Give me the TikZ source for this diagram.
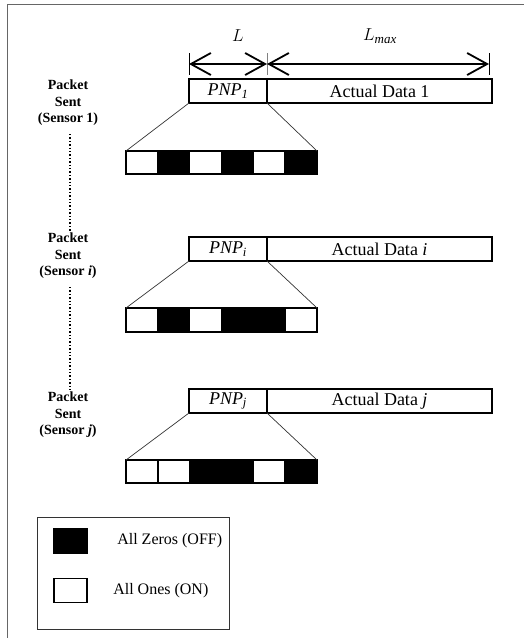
\documentclass[tikz,border=0pt]{standalone}
\usepackage{fontspec}
\setmainfont{Liberation Serif}
\usetikzlibrary{arrows.meta,positioning}

\begin{document}
\begin{tikzpicture}[x=1pt,y=-1pt,
  box/.style={draw,line width=1.6pt,outer sep=0pt,inner sep=0pt,minimum height=24pt,font=\fontsize{18}{20}\selectfont},
  bar/.style={draw,line width=1.6pt,outer sep=0pt,minimum width=191pt,minimum height=23pt},
  sent/.style={align=center,inner sep=2pt,font=\bfseries\fontsize{14}{16.5}\selectfont},
  zoomline/.style={line width=0.7pt,black!80},
  barb/.tip={Straight Barb[length=20pt,width=22pt,line width=1.8pt]},
  dim/.style={line width=1.8pt,barb-barb}]
\useasboundingbox (0,0) rectangle (524,638);

% outer lines
\draw[gray!80!black,line width=1pt] (7,638) |- (524,4);

% lengths
\coordinate (t0) at (189,64);
\coordinate (t1) at (267,64);
\coordinate (t2) at (489,64);
\draw[line width=0.8pt] ([yshift=11pt]t0) -- ([yshift=-11pt]t0);
\draw[line width=0.8pt,gray] ([yshift=11pt]t1) -- ([yshift=-11pt]t1);
\draw[line width=0.8pt] ([yshift=11pt]t2) -- ([yshift=-11pt]t2);
\draw[dim] (t0) -- (t1);
\draw[dim] (t1) -- (t2);
\node[font=\fontsize{16}{18}\selectfont] (len) at (238,36) {$L$};
\node[font=\fontsize{16}{18}\selectfont] (lenmax) at (380,36)
  {$L_{\mbox{\fontsize{13}{14}\selectfont$\mathit{max}$}}$};

% packet 1
\node[box,minimum width=78pt] (pnp1) at (228,91) {\textit{PNP\textsubscript{1}}};
\node[box,minimum width=225pt,right=0pt of pnp1] (data1) {Actual Data 1};
\foreach \c [count=\k from 0] in {white,black,white,black,white,black}
  \draw[line width=1.6pt,fill=\c] (126+31.83*\k,151) rectangle ++(31.83,23);
\node[bar] (bar1) at (221.5,162.5) {};
\draw[zoomline] (pnp1.south west) -- (bar1.north west);
\draw[zoomline] (pnp1.south east) -- (bar1.north east);
\node[sent] (sent1) at (68,103) {Packet\\Sent\\(Sensor 1)};

% packet i
\node[box,minimum width=78pt] (pnpi) at (228,249) {\textit{PNP\textsubscript{i}}};
\node[box,minimum width=225pt,right=0pt of pnpi] (datai) {Actual Data \textit{i}};
\foreach \c [count=\k from 0] in {white,black,white,black,black,white}
  \draw[line width=1.6pt,fill=\c] (126+31.83*\k,308) rectangle ++(31.83,24);
\node[bar,minimum height=24pt] (bari) at (221.5,320) {};
\draw[zoomline] (pnpi.south west) -- (bari.north west);
\draw[zoomline] (pnpi.south east) -- (bari.north east);
\node[sent] (senti) at (68,256) {Packet\\Sent\\(Sensor \textit{i})};

% packet j
\node[box,minimum width=78pt] (pnpj) at (228,401) {\textit{PNP\textsubscript{j}}};
\node[box,minimum width=225pt,right=0pt of pnpj] (dataj) {Actual Data \textit{j}};
\foreach \c [count=\k from 0] in {white,white,black,black,white,black}
  \draw[line width=1.6pt,fill=\c] (126+31.83*\k,460) rectangle ++(31.83,23);
\node[bar] (barj) at (221.5,471.5) {};
\draw[zoomline] (pnpj.south west) -- (barj.north west);
\draw[zoomline] (pnpj.south east) -- (barj.north east);
\node[sent] (sentj) at (68,415) {Packet\\Sent\\(Sensor \textit{j})};

% dots between packets
\draw[dotted,line width=1.4pt] ([xshift=2pt,yshift=-6pt]sent1.south) -- ([xshift=2pt]senti.north);
\draw[dotted,line width=1.4pt] ([xshift=2pt,yshift=-6pt]senti.south) -- ([xshift=2pt]sentj.north);

% legend
\node[draw,black!80,line width=0.8pt,minimum width=192pt,minimum height=112pt] (legend) at (133,573) {};
\node[draw,fill=black,line width=1.5pt,minimum width=33pt,minimum height=24pt] (offkey) at (70.5,541) {};
\node[draw,fill=white,line width=1.5pt,minimum width=33pt,minimum height=24pt] (onkey) at (70.5,590.5) {};
\node[right=26pt of offkey,font=\fontsize{16}{18}\selectfont] (offtxt) {All Zeros (OFF)};
\node[right=22pt of onkey,font=\fontsize{16}{18}\selectfont] (ontxt) {All Ones (ON)};
\end{tikzpicture}
\end{document}
